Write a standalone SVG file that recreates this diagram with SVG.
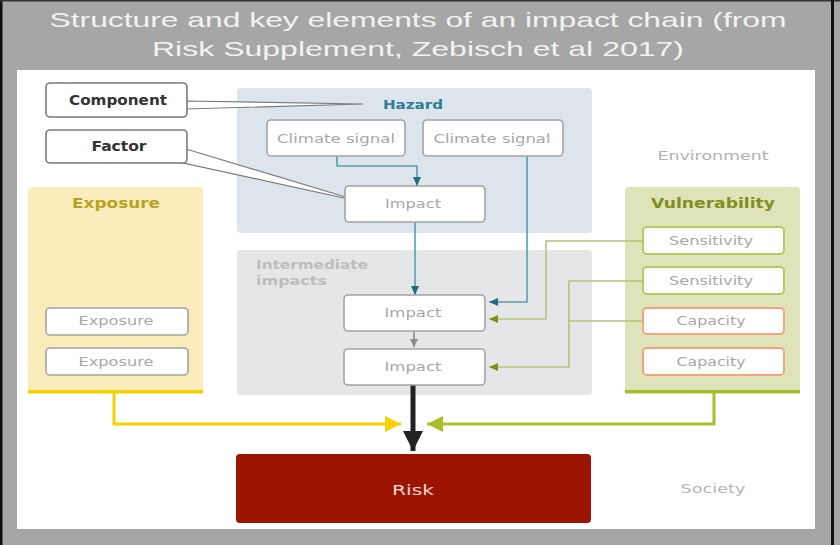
<svg xmlns="http://www.w3.org/2000/svg" width="840" height="545" viewBox="0 0 840 545">
<defs>
<style>
.t{font-family:"DejaVu Sans","Liberation Sans",sans-serif;}
.box{fill:#ffffff;stroke:#a3a3a3;stroke-width:1.6;}
.bt{font-size:12px;fill:#a8a8a8;text-anchor:middle;}
.lbl{font-size:14px;font-weight:bold;fill:#333333;text-anchor:middle;}
.title{font-family:"Liberation Sans",Arial,sans-serif;font-size:21px;fill:#f2f2f2;text-anchor:middle;}
.teal{fill:none;stroke:#5c9db2;stroke-width:1.6;}
.olive{fill:none;stroke:#b3c27a;stroke-width:1.6;}
</style>
<marker id="mTeal" markerUnits="userSpaceOnUse" markerWidth="10" markerHeight="10" refX="9" refY="5" orient="auto"><path d="M0,1 L9,5 L0,9 z" fill="#1f6b80"/></marker>
<marker id="mOlive" markerUnits="userSpaceOnUse" markerWidth="10" markerHeight="10" refX="9" refY="5" orient="auto"><path d="M0,1 L9,5 L0,9 z" fill="#7d8f1f"/></marker>
<marker id="mGray" markerUnits="userSpaceOnUse" markerWidth="10" markerHeight="10" refX="8" refY="5" orient="auto"><path d="M0,1 L8,5 L0,9 z" fill="#8a8a8a"/></marker>
<marker id="mYellow" markerUnits="userSpaceOnUse" markerWidth="20" markerHeight="20" refX="16" refY="8" orient="auto"><path d="M0,0 L16,8 L0,16 z" fill="#f5d200"/></marker>
<marker id="mGreen" markerUnits="userSpaceOnUse" markerWidth="20" markerHeight="20" refX="16" refY="8" orient="auto"><path d="M0,0 L16,8 L0,16 z" fill="#a9bf2c"/></marker>
<marker id="mBlack" markerUnits="userSpaceOnUse" markerWidth="24" markerHeight="24" refX="20" refY="10" orient="auto"><path d="M0,0 L20,10 L0,20 z" fill="#222222"/></marker>
</defs>

<!-- frame -->
<rect x="0" y="0" width="840" height="545" fill="#a6a6a6"/>
<rect x="0" y="0" width="2.5" height="545" fill="#111"/>
<rect x="0" y="0" width="840" height="1.5" fill="#333"/>
<rect x="831" y="0" width="3" height="545" fill="#111"/>
<rect x="17" y="70" width="798" height="459" fill="#ffffff"/>

<text class="title" x="418" y="27" textLength="737" lengthAdjust="spacingAndGlyphs">Structure and key elements of an impact chain (from</text>
<text class="title" x="418" y="56" textLength="532" lengthAdjust="spacingAndGlyphs">Risk Supplement, Zebisch et al 2017)</text>

<!-- regions -->
<g id="hazard">
<rect x="237" y="88" width="355" height="145" rx="4" fill="#dde5ec"/>
<text class="t" x="413" y="109" font-size="13" font-weight="bold" fill="#2e7d97" text-anchor="middle" textLength="60" lengthAdjust="spacingAndGlyphs">Hazard</text>
</g>
<g id="intermediate">
<rect x="237" y="250" width="355" height="145" rx="4" fill="#e5e6e8"/>
<text class="t" x="256" y="269" font-size="12.5" font-weight="bold" fill="#bdbdbd" textLength="112" lengthAdjust="spacingAndGlyphs">Intermediate</text>
<text class="t" x="256" y="285" font-size="12.5" font-weight="bold" fill="#bdbdbd" textLength="71" lengthAdjust="spacingAndGlyphs">impacts</text>
</g>
<g id="exposure">
<rect x="28" y="187" width="175" height="206" rx="4" fill="#fbedbb"/>
<rect x="28" y="390" width="175" height="3.5" fill="#f3d000"/>
<text class="t" x="116" y="208" font-size="13.5" font-weight="bold" fill="#b8a224" text-anchor="middle" textLength="88" lengthAdjust="spacingAndGlyphs">Exposure</text>
</g>
<g id="vulnerability">
<rect x="625" y="187" width="175" height="206" rx="4" fill="#dfe3b9"/>
<rect x="625" y="390" width="175" height="3.5" fill="#a8bf2a"/>
<text class="t" x="713" y="208" font-size="13.5" font-weight="bold" fill="#7f8f20" text-anchor="middle" textLength="124" lengthAdjust="spacingAndGlyphs">Vulnerability</text>
</g>

<!-- connectors -->
<g id="connectors">
<path class="teal" d="M337,156 V166 H417 V186" marker-end="url(#mTeal)"/>
<path class="teal" d="M415,222 V295" marker-end="url(#mTeal)"/>
<path class="teal" d="M527,156 V302 H489" marker-end="url(#mTeal)"/>
<path class="olive" d="M643,241 H546 V319 H489" marker-end="url(#mOlive)"/>
<path class="olive" d="M643,281 H569 V367 H489" marker-end="url(#mOlive)"/>
<path class="olive" d="M643,321 H569"/>
<path d="M414,331 V347" stroke="#8a8a8a" stroke-width="1.6" fill="none" marker-end="url(#mGray)"/>
<path d="M114,393 V424 H401" stroke="#f5d200" stroke-width="3" fill="none" marker-end="url(#mYellow)"/>
<path d="M714,393 V424 H427" stroke="#a9bf2c" stroke-width="3" fill="none" marker-end="url(#mGreen)"/>
<path d="M413,385 V451" stroke="#222222" stroke-width="5" fill="none" marker-end="url(#mBlack)"/>
<polygon points="186,101 363,104 186,109" fill="#ffffff" stroke="#7a7a7a" stroke-width="1.2"/>
<polygon points="186,149 362,202 179,162" fill="#ffffff" stroke="#7a7a7a" stroke-width="1.2"/>
</g>

<!-- nodes -->
<g id="component"><rect x="46" y="83" width="141" height="34" rx="4" fill="#fff" stroke="#7a7a7a" stroke-width="1.6"/><text class="t lbl" x="118" y="105" textLength="98" lengthAdjust="spacingAndGlyphs">Component</text></g>
<g id="factor"><rect x="46" y="130" width="141" height="33" rx="4" fill="#fff" stroke="#7a7a7a" stroke-width="1.6"/><text class="t lbl" x="119" y="151" textLength="55" lengthAdjust="spacingAndGlyphs">Factor</text></g>

<g id="climate1"><rect class="box" x="267" y="120" width="138" height="36" rx="4"/><text class="t bt" x="336" y="143" textLength="118" lengthAdjust="spacingAndGlyphs">Climate signal</text></g>
<g id="climate2"><rect class="box" x="423" y="120" width="140" height="36" rx="4"/><text class="t bt" x="492" y="143" textLength="117" lengthAdjust="spacingAndGlyphs">Climate signal</text></g>
<g id="impact0"><rect class="box" x="345" y="186" width="140" height="36" rx="4"/><text class="t bt" x="413" y="208" textLength="56" lengthAdjust="spacingAndGlyphs">Impact</text></g>
<g id="impact1"><rect class="box" x="344" y="295" width="141" height="36" rx="4"/><text class="t bt" x="413" y="317" textLength="57" lengthAdjust="spacingAndGlyphs">Impact</text></g>
<g id="impact2"><rect class="box" x="344" y="349" width="141" height="36" rx="4"/><text class="t bt" x="413" y="371" textLength="57" lengthAdjust="spacingAndGlyphs">Impact</text></g>

<g id="exposure1"><rect class="box" x="46" y="308" width="142" height="27" rx="4"/><text class="t bt" x="116" y="325" textLength="75" lengthAdjust="spacingAndGlyphs">Exposure</text></g>
<g id="exposure2"><rect class="box" x="46" y="348" width="142" height="27" rx="4"/><text class="t bt" x="116" y="366" textLength="75" lengthAdjust="spacingAndGlyphs">Exposure</text></g>

<g id="sensitivity1"><rect x="643" y="227" width="141" height="27" rx="4" fill="#fff" stroke="#b5c960" stroke-width="2"/><text class="t bt" x="711" y="245" textLength="84" lengthAdjust="spacingAndGlyphs">Sensitivity</text></g>
<g id="sensitivity2"><rect x="643" y="267" width="141" height="27" rx="4" fill="#fff" stroke="#b5c960" stroke-width="2"/><text class="t bt" x="711" y="285" textLength="84" lengthAdjust="spacingAndGlyphs">Sensitivity</text></g>
<g id="capacity1"><rect x="643" y="308" width="141" height="26" rx="4" fill="#fff" stroke="#f2a57f" stroke-width="2"/><text class="t bt" x="711" y="325" textLength="69" lengthAdjust="spacingAndGlyphs">Capacity</text></g>
<g id="capacity2"><rect x="643" y="348" width="141" height="27" rx="4" fill="#fff" stroke="#f2a57f" stroke-width="2"/><text class="t bt" x="711" y="366" textLength="69" lengthAdjust="spacingAndGlyphs">Capacity</text></g>

<g id="environment"><text class="t" x="713" y="160" font-size="12.5" fill="#b0b0b0" text-anchor="middle" textLength="111" lengthAdjust="spacingAndGlyphs">Environment</text></g>

<g id="risk"><rect x="236" y="454" width="355" height="69" rx="4" fill="#9b1400"/><text class="t" x="413" y="495" font-size="14" fill="#f2d6d2" text-anchor="middle" textLength="42" lengthAdjust="spacingAndGlyphs">Risk</text></g>
<g id="society"><text class="t" x="713" y="493" font-size="13" fill="#b5b5b5" text-anchor="middle" textLength="65" lengthAdjust="spacingAndGlyphs">Society</text></g>
</svg>
